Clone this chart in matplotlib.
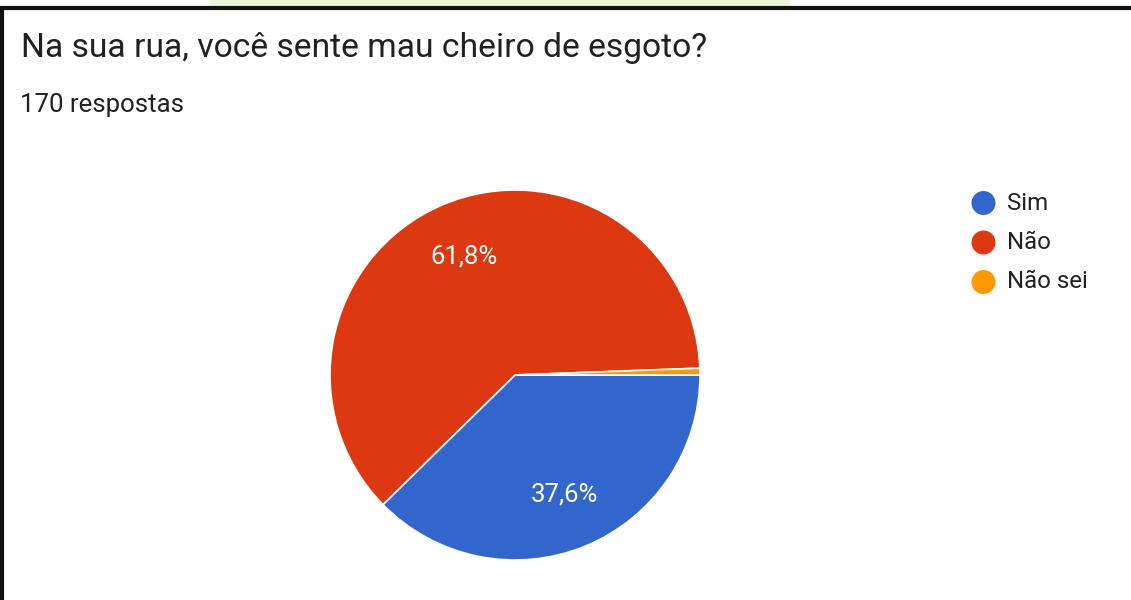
import matplotlib.pyplot as plt
from matplotlib.patches import Rectangle, Circle

# Dados
categorias = ['Sim', 'Não', 'Não sei']
respostas = [64, 105, 1]
cores = ['#3366cc', '#dc3912', '#ff9900']
titulo = 'Na sua rua, você sente mau cheiro de esgoto?'
subtitulo = '170 respostas'

W, H = 1131, 600
fig = plt.figure(figsize=(W / 100, H / 100), dpi=100)
fig.patch.set_facecolor('white')

# camada de fundo em pixels
bg = fig.add_axes([0, 0, 1, 1])
bg.set_xlim(0, W)
bg.set_ylim(H, 0)
bg.axis('off')

# faixa verde cortada no topo + moldura preta
bg.add_patch(Rectangle((210, 0), 580, 6, color='#e8f7dc', lw=0))
bg.plot([0, W], [7.5, 7.5], color='#111111', lw=3, solid_capstyle='butt')
bg.plot([1.5, 1.5], [7.5, H], color='#111111', lw=3, solid_capstyle='butt')

bg.text(21, 48, titulo, fontsize=24.2, family='Roboto', color='#212121', va='center')
bg.text(20, 105, subtitulo, fontsize=18.5, family='Roboto', color='#212121', va='center')

# legenda
for i, (cat, cor) in enumerate(zip(categorias, cores)):
    y = 203 + i * 39.5
    bg.add_patch(Circle((983.5, y), 12, color=cor, lw=0))
    bg.text(1007, y, cat, fontsize=17.3, family='Roboto', color='#222222', va='center')

# pizza
cx, cy, r = 515, 375, 185
ax = fig.add_axes([(cx - r) / W, (H - cy - r) / H, 2 * r / W, 2 * r / H])


def rotulo(pct):
    return ('%.1f%%' % pct).replace('.', ',') if pct > 5 else ''


wedges, textos, pcts = ax.pie(respostas, colors=cores, startangle=0, counterclock=False,
                              autopct=rotulo, pctdistance=0.7,
                              wedgeprops=dict(edgecolor='white', linewidth=1.2),
                              textprops=dict(color='white', fontsize=18.5, family='Roboto'))
ax.set_xlim(-1, 1)
ax.set_ylim(-1, 1)
ax.set_aspect('equal')
ax.axis('off')

fig.savefig('out.png', dpi=100)
